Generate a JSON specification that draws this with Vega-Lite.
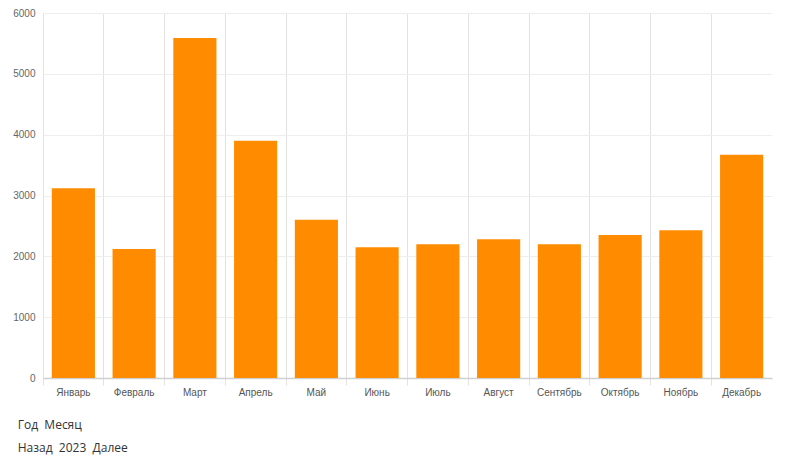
{
  "$schema": "https://vega.github.io/schema/vega-lite/v6.json",
  "width": 729,
  "height": 365,
  "autosize": {"type": "none"},
  "padding": {"left": 43, "top": 13, "right": 32, "bottom": 88},
  "background": "white",
  "config": {"view": {"stroke": null}, "font": "Liberation Sans"},
  "title": {
    "text": "Год\u00a0\u00a0Месяц",
    "subtitle": "Назад\u00a0\u00a02023\u00a0\u00a0Далее",
    "orient": "bottom",
    "anchor": "start",
    "dx": 5,
    "offset": 23,
    "font": "Open Sans",
    "fontSize": 12,
    "fontWeight": "normal",
    "color": "#333333",
    "subtitleFont": "Open Sans",
    "subtitleFontSize": 12,
    "subtitleColor": "#333333",
    "subtitlePadding": 11
  },
  "data": {
    "values": [
      {"month": "Январь", "value": 3120},
      {"month": "Февраль", "value": 2120},
      {"month": "Март", "value": 5590},
      {"month": "Апрель", "value": 3900},
      {"month": "Май", "value": 2600},
      {"month": "Июнь", "value": 2150},
      {"month": "Июль", "value": 2200},
      {"month": "Август", "value": 2280},
      {"month": "Сентябрь", "value": 2200},
      {"month": "Октябрь", "value": 2350},
      {"month": "Ноябрь", "value": 2430},
      {"month": "Декабрь", "value": 3670}
    ]
  },
  "mark": {"type": "bar", "color": "#ff8c00", "width": {"band": 0.71}},
  "encoding": {
    "x": {
      "field": "month",
      "type": "nominal",
      "sort": null,
      "scale": {"paddingInner": 0, "paddingOuter": 0},
      "axis": {
        "title": null,
        "labelAngle": 0,
        "labelFontSize": 10,
        "labelColor": "#555555",
        "labelPadding": 2,
        "bandPosition": 0,
        "grid": true,
        "gridColor": "#e2e2e2",
        "tickColor": "#e2e2e2",
        "tickSize": 7,
        "domainColor": "#d0d0d0",
        "domainWidth": 1.5
      }
    },
    "y": {
      "field": "value",
      "type": "quantitative",
      "scale": {"domain": [0, 6000]},
      "axis": {
        "title": null,
        "format": "d",
        "values": [0, 1000, 2000, 3000, 4000, 5000, 6000],
        "domain": false,
        "ticks": false,
        "labelFontSize": 10,
        "labelColor": "#666666",
        "labelPadding": 8,
        "gridColor": "#eeeeee"
      }
    }
  }
}
